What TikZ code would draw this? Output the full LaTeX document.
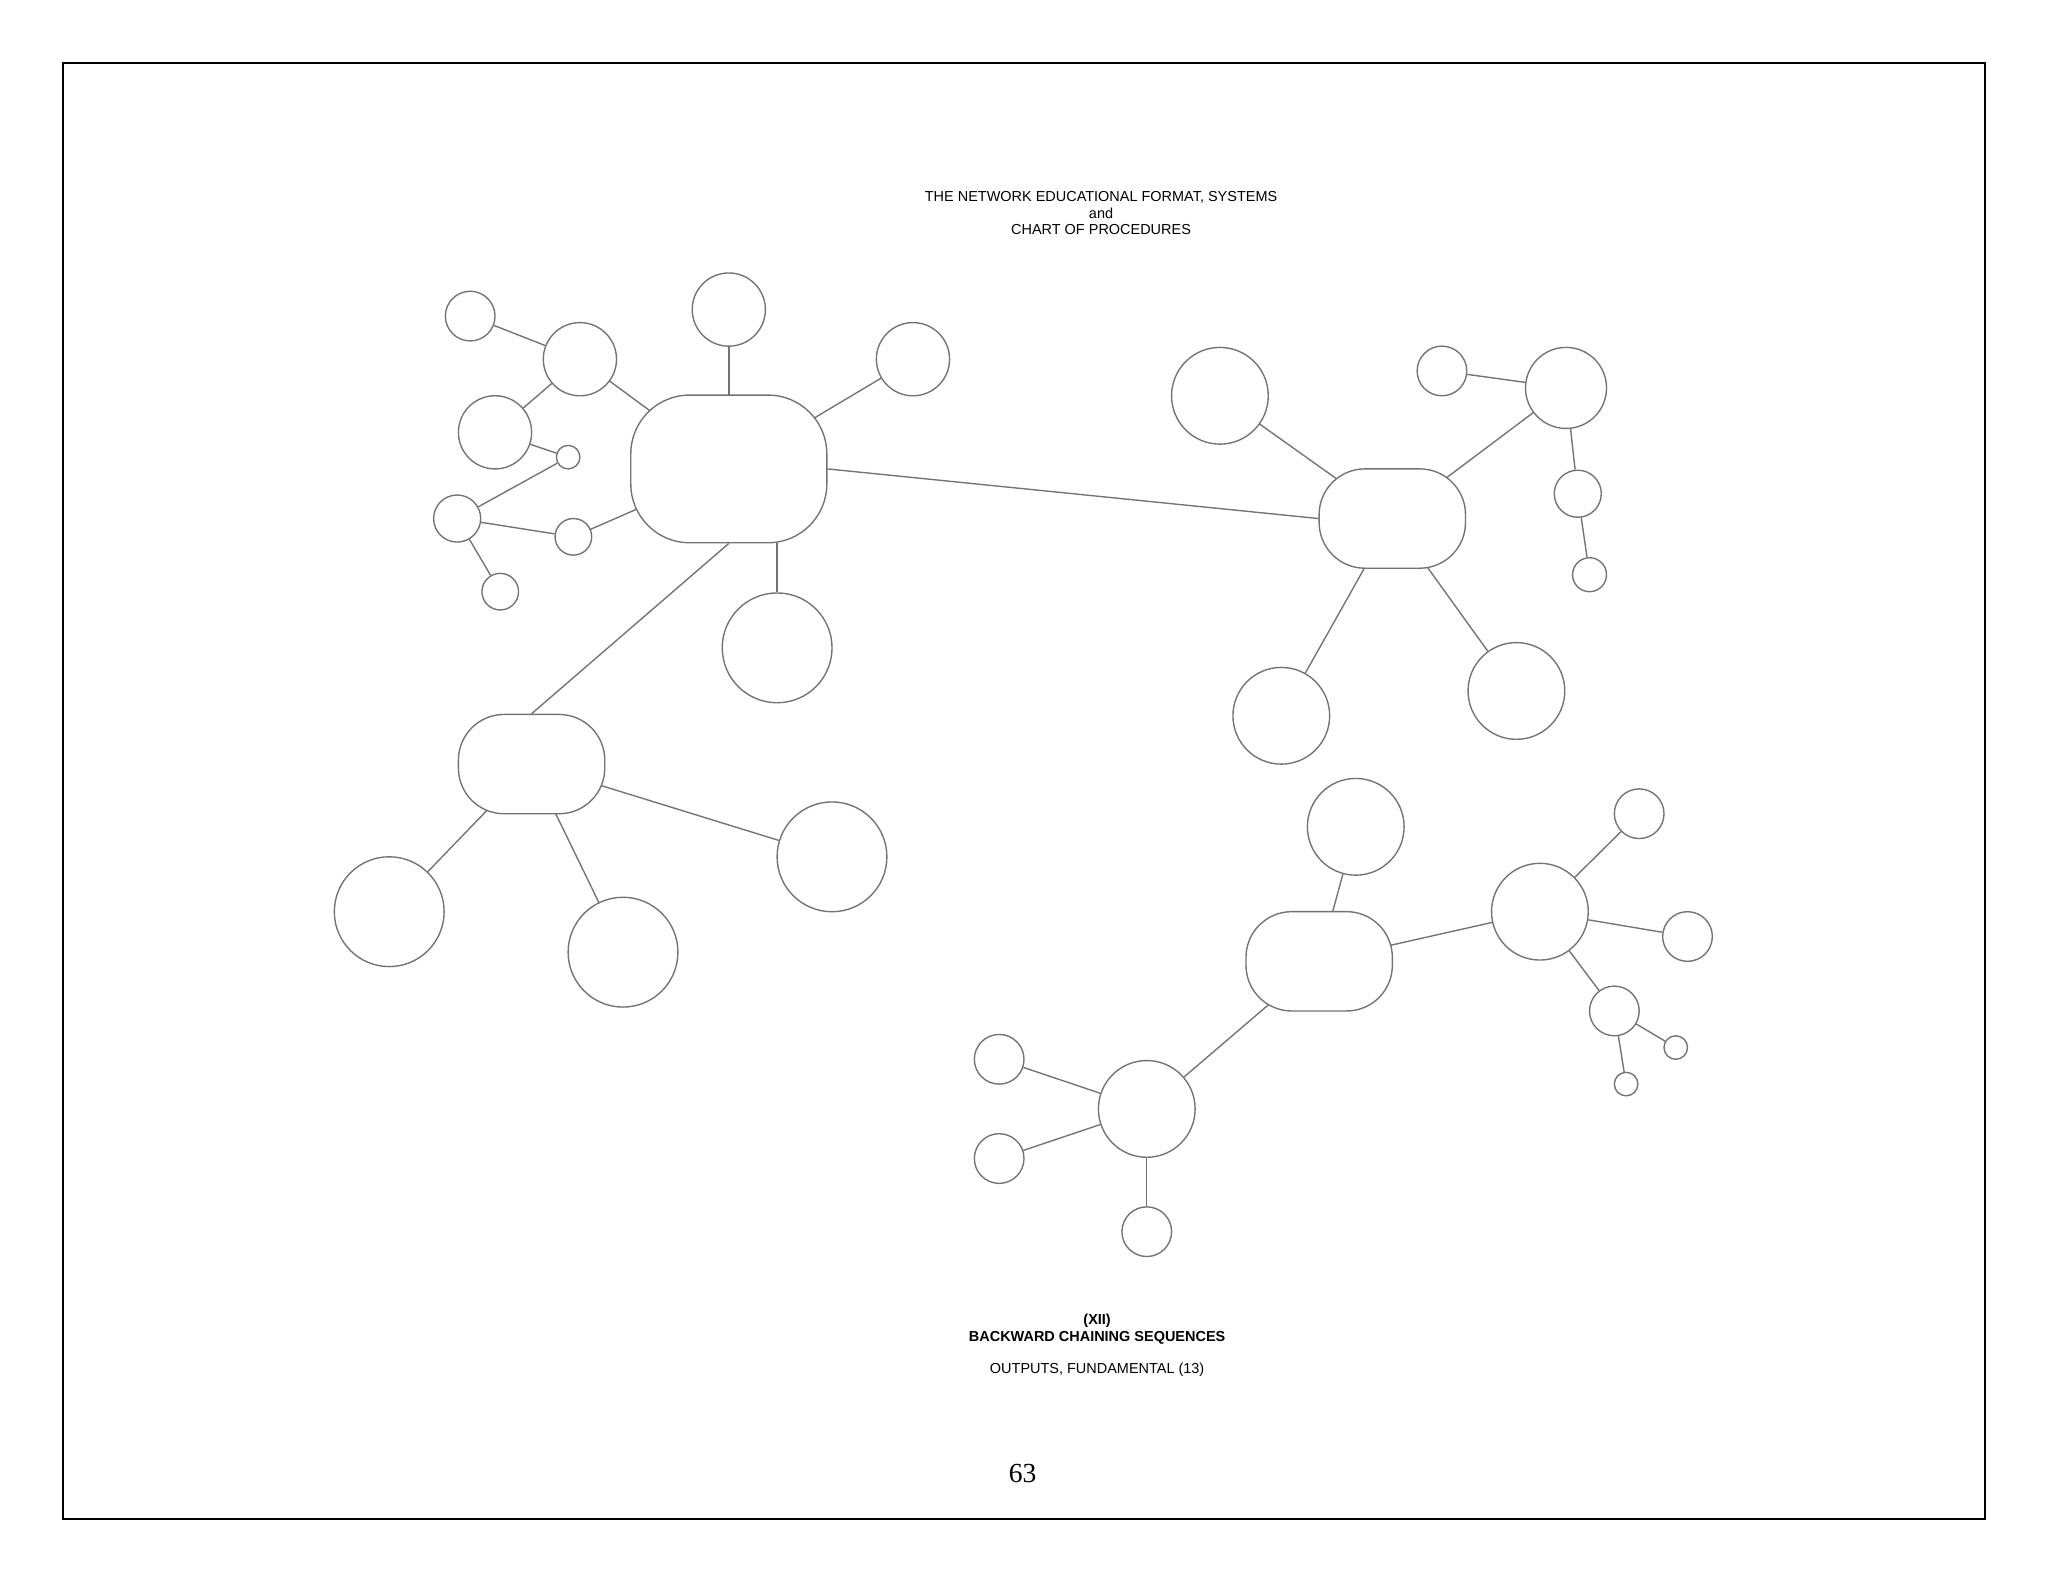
\documentclass[tikz,border=0pt]{standalone}
\usepackage{fontspec}
\setmainfont{Liberation Sans}
\newfontfamily\serifnum{Liberation Serif}
\usetikzlibrary{backgrounds}
\begin{document}
\begin{tikzpicture}[x=0.01cm,y=-0.01cm,
  ln/.style={draw=black!55,line width=0.3pt},
  c/.style={ln,fill=white,circle,inner sep=0pt,minimum size=#1*0.02cm},
  box/.style={ln,fill=white,rounded corners=#1*0.01cm,inner sep=0pt},
  txt/.style={font=\fontsize{3.15}{4}\selectfont,inner sep=0pt}]
\useasboundingbox (0,0) rectangle (1568,1211);
\draw[line width=0.4pt] (48,48) rectangle (1520,1163);
\node[txt] (t1) at (843,151) {THE NETWORK EDUCATIONAL FORMAT, SYSTEMS};
\node[txt] (t2) at (843,163) {and};
\node[txt] (t3) at (843,176) {CHART OF PROCEDURES};
% cluster A
\node[box=45,minimum width=1.5cm,minimum height=1.13cm] (A) at (558,359) {};
\node[c=28] (a1) at (558,237) {};
\node[c=28] (a2) at (699,275) {};
\node[c=28] (a3) at (444,275) {};
\node[c=19] (a4) at (360,242) {};
\node[c=28] (a5) at (379,331) {};
\node[c=9] (a6) at (435,350) {};
\node[c=18] (a7) at (350,397) {};
\node[c=14] (a8) at (439,411) {};
\node[c=14] (a9) at (383,453) {};
\node[c=42] (a10) at (595,496) {};
% cluster B
\node[box=35,minimum width=1.12cm,minimum height=0.76cm] (B) at (407,585) {};
\node[c=42] (b1) at (298,698) {};
\node[c=42] (b2) at (477,729) {};
\node[c=42] (b3) at (637,656) {};
% cluster C
\node[box=35,minimum width=1.12cm,minimum height=0.76cm] (C) at (1066,397) {};
\node[c=37] (c1) at (934,303) {};
\node[c=19] (c2) at (1104,284) {};
\node[c=31] (c3) at (1199,297) {};
\node[c=18] (c4) at (1208,378) {};
\node[c=13] (c5) at (1217,440) {};
\node[c=37] (c6) at (981,548) {};
\node[c=37] (c7) at (1161,529) {};
% cluster D
\node[box=35,minimum width=1.12cm,minimum height=0.76cm] (D) at (1010,736) {};
\node[c=37] (d1) at (1038,633) {};
\node[c=37] (d2) at (1179,698) {};
\node[c=19] (d3) at (1255,623) {};
\node[c=19] (d4) at (1292,717) {};
\node[c=19] (d5) at (1236,774) {};
\node[c=9] (d6) at (1283,802) {};
\node[c=9] (d7) at (1245,830) {};
\node[c=37] (d8) at (878,849) {};
\node[c=19] (d9) at (765,811) {};
\node[c=19] (d10) at (765,887) {};
\node[c=19] (d11) at (878,943) {};
\begin{scope}[on background layer]
\draw[ln] (A.center) -- (a1.center); \draw[ln] (A.center) -- (a2.center); \draw[ln] (A.center) -- (a3.center);
\draw[ln] (a3) -- (a4); \draw[ln] (a3) -- (a5); \draw[ln] (a5) -- (a6);
\draw[ln] (a7) -- (a6); \draw[ln] (a7) -- (a8); \draw[ln] (a8.center) -- (A.center);
\draw[ln] (a7) -- (a9); \draw[ln] (A.south -| a10) -- (a10);
\draw[ln] (A.south) -- (B.north);
\draw[ln] (B.center) -- (b1.center); \draw[ln] (B.center) -- (b2.center); \draw[ln] (B.center) -- (b3.center);
\draw[ln] (A.east) -- (C.west);
\draw[ln] (C.center) -- (c1.center); \draw[ln] (C.center) -- (c3.center); \draw[ln] (c3) -- (c2);
\draw[ln] (c3) -- (c4); \draw[ln] (c4) -- (c5);
\draw[ln] (C.center) -- (c6.center); \draw[ln] (C.center) -- (c7.center);
\draw[ln] (D.center) -- (d1.center); \draw[ln] (D.center) -- (d2.center);
\draw[ln] (d2) -- (d3); \draw[ln] (d2) -- (d4); \draw[ln] (d2) -- (d5);
\draw[ln] (d5) -- (d6); \draw[ln] (d5) -- (d7);
\draw[ln] (D.center) -- (d8.center); \draw[ln] (d8) -- (d9); \draw[ln] (d8) -- (d10); \draw[ln] (d8) -- (d11);
\end{scope}
% bottom text
\node[txt,font=\fontsize{3.15}{4}\selectfont\bfseries] (u1) at (840,1011) {(XII)};
\node[txt,font=\fontsize{3.15}{4}\selectfont\bfseries] (u2) at (840,1024) {BACKWARD CHAINING SEQUENCES};
\node[txt] (u3) at (840,1049) {OUTPUTS, FUNDAMENTAL (13)};
\node[inner sep=0pt,font=\serifnum\fontsize{6}{7}\selectfont] (pg) at (783,1128) {63};
\end{tikzpicture}
\end{document}
